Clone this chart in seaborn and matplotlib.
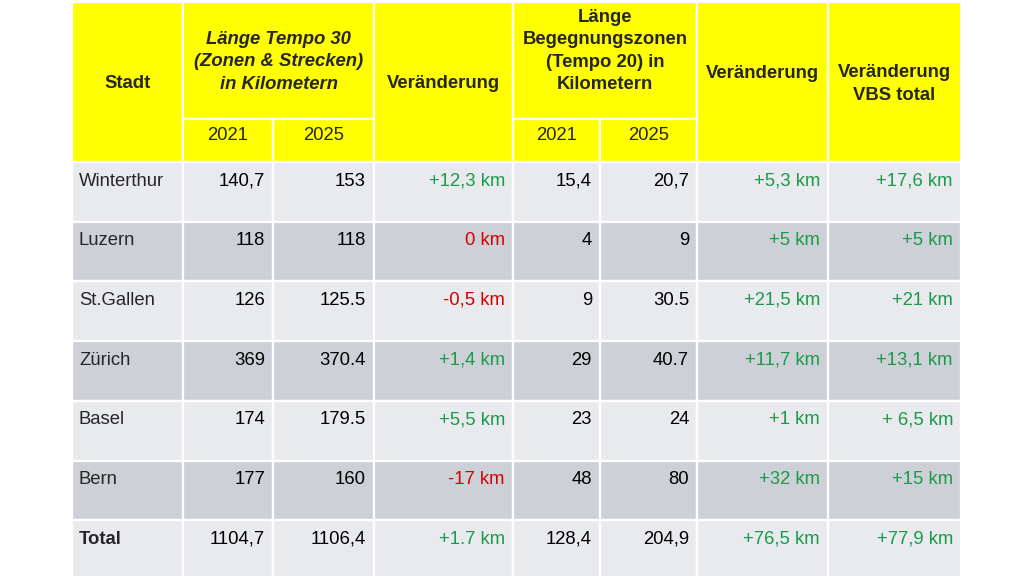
import matplotlib
matplotlib.use("Agg")
import matplotlib.pyplot as plt
from matplotlib.patches import Rectangle
import seaborn as sns

# Table data (as shown, mixed decimal separators kept on purpose)
cities = ["Winterthur", "Luzern", "St.Gallen", "Zürich", "Basel", "Bern", "Total"]
t30_2021 = ["140,7", "118", "126", "369", "174", "177", "1104,7"]
t30_2025 = ["153", "118", "125.5", "370.4", "179.5", "160", "1106,4"]
t30_change = ["+12,3 km", "0 km", "-0,5 km", "+1,4 km", "+5,5 km", "-17 km", "+1.7 km"]
bz_2021 = ["15,4", "4", "9", "29", "23", "48", "128,4"]
bz_2025 = ["20,7", "9", "30.5", "40.7", "24", "80", "204,9"]
bz_change = ["+5,3 km", "+5 km", "+21,5 km", "+11,7 km", "+1 km", "+32 km", "+76,5 km"]
vbs_total = ["+17,6 km", "+5 km", "+21 km", "+13,1 km", "+ 6,5 km", "+15 km", "+77,9 km"]

header_t30 = "Länge Tempo 30\n(Zonen & Strecken)\nin Kilometern"
header_bz = "Länge\nBegegnungszonen\n(Tempo 20) in\nKilometern"
header_change = "Veränderung"
header_vbs = "Veränderung\nVBS total"
years = ["2021", "2025"]

sns.set_theme(style="white")
plt.rcParams["font.family"] = ["Liberation Sans", "DejaVu Sans"]

YELLOW = "#FFFF00"
LIGHT = "#E8EAED"
DARK = "#CDD1D7"
GREEN = "#1A9A4A"
RED = "#D60000"
FS = 13.3
LS = 1.42

# layout in pixels
col_edges = [72, 183, 273, 374, 513, 600, 697, 828, 961]
head_top, sub_top, body_top = 2, 119, 162
row_h = 59.7

fig = plt.figure(figsize=(10.24, 5.76), dpi=100)
ax = fig.add_axes([0, 0, 1, 1])
ax.set_xlim(0, 1024)
ax.set_ylim(576, 0)
ax.axis("off")


def cell(x0, x1, y0, y1, color):
    ax.add_patch(Rectangle((x0, y0), x1 - x0, y1 - y0, facecolor=color,
                           edgecolor="white", linewidth=1.6))


# header cells
c = col_edges
cell(c[0], c[1], head_top, body_top, YELLOW)
cell(c[1], c[3], head_top, sub_top, YELLOW)
cell(c[1], c[2], sub_top, body_top, YELLOW)
cell(c[2], c[3], sub_top, body_top, YELLOW)
cell(c[3], c[4], head_top, body_top, YELLOW)
cell(c[4], c[6], head_top, sub_top, YELLOW)
cell(c[4], c[5], sub_top, body_top, YELLOW)
cell(c[5], c[6], sub_top, body_top, YELLOW)
cell(c[6], c[7], head_top, body_top, YELLOW)
cell(c[7], c[8], head_top, body_top, YELLOW)

ax.text((c[0] + c[1]) / 2, 84, "Stadt", ha="center", va="center",
        fontsize=FS, fontweight="bold")
ax.text((c[1] + c[3]) / 2, 62, header_t30, ha="center", va="center",
        fontsize=FS, fontweight="bold", fontstyle="italic", linespacing=LS)
ax.text((c[3] + c[4]) / 2, 84, header_change, ha="center", va="center",
        fontsize=FS, fontweight="bold")
ax.text((c[4] + c[6]) / 2, 51, header_bz, ha="center", va="center",
        fontsize=FS, fontweight="bold", linespacing=LS)
ax.text((c[6] + c[7]) / 2, 73, header_change, ha="center", va="center",
        fontsize=FS, fontweight="bold")
ax.text((c[7] + c[8]) / 2, 84, header_vbs, ha="center", va="center",
        fontsize=FS, fontweight="bold", linespacing=LS)
for i, yr in enumerate(years):
    ax.text((c[1 + i] + c[2 + i]) / 2, 135, yr, ha="center", va="center", fontsize=FS)
    ax.text((c[4 + i] + c[5 + i]) / 2, 135, yr, ha="center", va="center", fontsize=FS)


def change_color(s):
    v = float(s.replace("km", "").replace(" ", "").replace(",", "."))
    return GREEN if v > 0 else RED


columns = [t30_2021, t30_2025, t30_change, bz_2021, bz_2025, bz_change, vbs_total]
colored = [False, False, True, False, False, True, True]

for r, city in enumerate(cities):
    y0 = body_top + r * row_h
    y1 = y0 + row_h if r < len(cities) - 1 else 580
    bg = LIGHT if r % 2 == 0 else DARK
    for k in range(len(col_edges) - 1):
        cell(c[k], c[k + 1], y0, y1, bg)
    base = y0 + 23.5
    ax.text(c[0] + 7, base, city, ha="left", va="baseline", fontsize=FS,
            fontweight="bold" if city == "Total" else "normal")
    for k, col in enumerate(columns):
        val = col[r]
        color = change_color(val) if colored[k] else "black"
        ax.text(c[k + 2] - 8, base, val, ha="right", va="baseline",
                fontsize=FS, color=color)

fig.savefig("out.png", dpi=100, facecolor="white")
